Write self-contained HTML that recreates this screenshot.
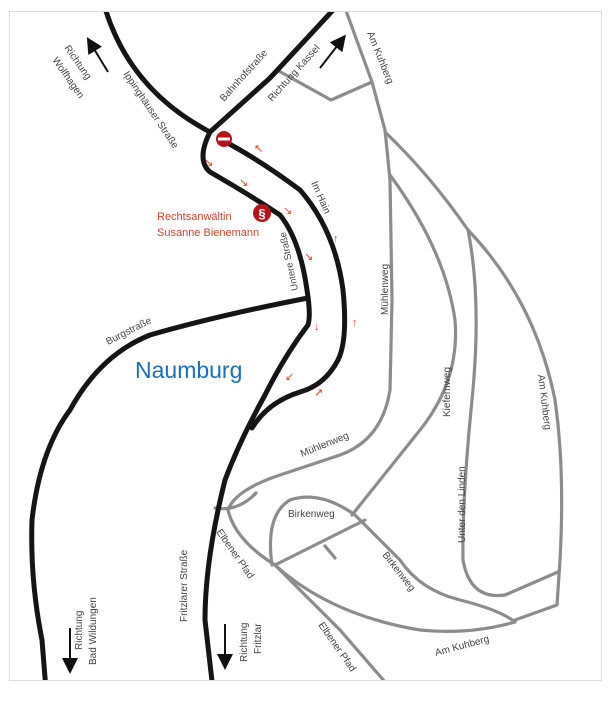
<!DOCTYPE html>
<html><head><meta charset="utf-8"><style>
html,body{margin:0;padding:0;background:#fff;width:609px;height:719px;overflow:hidden}
svg{display:block}
text{font-family:"Liberation Sans","DejaVu Sans",sans-serif;font-size:10px;fill:#444}
.b{fill:none;stroke:#151515;stroke-width:5;stroke-linecap:round;stroke-linejoin:round}
.g{fill:none;stroke:#8c8c8c;stroke-width:3.2;stroke-linecap:round;stroke-linejoin:round}
.r{fill:#e8401c;font-size:11px}
</style></head><body>
<svg width="609" height="719" viewBox="0 0 609 719" xmlns="http://www.w3.org/2000/svg">
<defs>
<radialGradient id="sh" cx="0.5" cy="0" r="0.5">
<stop offset="0" stop-color="#222"/><stop offset="0.6" stop-color="#777" stop-opacity="0.7"/><stop offset="1" stop-color="#fff" stop-opacity="0"/>
</radialGradient>
<clipPath id="c"><rect x="10" y="12" width="591" height="668"/></clipPath>
<marker id="ah" markerWidth="8" markerHeight="8" refX="4" refY="4" orient="auto"><path d="M0,0 L8,4 L0,8 Z" fill="#111"/></marker>
</defs>
<ellipse cx="305" cy="681" rx="295" ry="18" fill="url(#sh)"/>
<rect x="9.5" y="11.5" width="592" height="669" fill="#fff" stroke="#ddd"/>
<g clip-path="url(#c)">
<path class="g" d="M345,8 L372,82 L385,130 L390,180 L392,300 L390,390 Q382,440 340,455 L280,475 Q235,490 228,510 Q235,540 275,565 L340,630 L392,690"/>
<path class="g" d="M277,70 L331,100 L372,82"/>
<path class="g" d="M385,132 Q430,175 468,230 Q535,300 555,400 Q565,470 560,560 L557,605 L515,620"/>
<path class="g" d="M468,230 Q482,300 472,400 Q462,500 463,560 Q470,600 505,595 L558,572"/>
<path class="g" d="M390,175 Q445,250 455,320 Q460,380 420,430 L352,515"/>
<path class="g" d="M272,565 Q265,515 290,500 Q320,490 355,515 L400,560 Q420,590 460,600 Q500,610 515,622"/>
<path class="g" d="M275,565 Q330,615 420,630 Q470,635 515,622"/>
<path class="g" d="M275,565 L365,520"/>
<path class="g" d="M325,546 L335,558"/>
<path class="g" d="M215,508 Q238,512 256,493"/>
<path class="b" d="M105,8 Q130,90 210,132 L270,78 L335,8"/>
<path class="b" d="M210,132 Q196,160 210,172 Q250,195 280,215 Q300,240 307,290 Q311,315 308,325 Q285,355 265,395 Q240,440 225,480 Q205,560 205,620 L213,690"/>
<path class="b" d="M222,140 Q260,160 300,190 Q335,230 343,290 Q348,340 338,360 Q325,385 300,392 Q268,402 252,428"/>
<path class="b" d="M308,298 Q220,315 150,335 Q100,355 70,410 Q40,450 32,520 Q30,580 42,640 L46,690"/>
</g>
<line x1="108" y1="72" x2="91" y2="44" stroke="#111" stroke-width="2" marker-end="url(#ah)"/>
<line x1="320" y1="68" x2="341" y2="41" stroke="#111" stroke-width="2" marker-end="url(#ah)"/>
<line x1="70" y1="628" x2="70" y2="666" stroke="#111" stroke-width="2" marker-end="url(#ah)"/>
<line x1="225" y1="624" x2="225" y2="662" stroke="#111" stroke-width="2" marker-end="url(#ah)"/>
<circle cx="224" cy="139" r="8" fill="#b3141a"/><rect x="218" y="137.5" width="12" height="3" fill="#fff"/>
<circle cx="262" cy="213" r="9" fill="#b3141a"/><text x="262" y="218" text-anchor="middle" style="fill:#fff;font-size:13px;font-weight:bold">§</text>
<text x="157" y="220" style="fill:#c8452a;font-size:11px">Rechtsanwältin</text>
<text x="157" y="236" style="fill:#c8452a;font-size:11px">Susanne Bienemann</text>
<text x="135" y="378" style="fill:#1a6fb8;font-size:23px">Naumburg</text>
<text class="r" x="254" y="152">↖</text>
<text class="r" x="204" y="166">↘</text>
<text class="r" x="239" y="186">↘</text>
<text class="r" x="283" y="214">↘</text>
<text class="r" x="304" y="260">↘</text>
<text class="r" x="333" y="242">↑</text>
<text class="r" x="314" y="330">↓</text>
<text class="r" x="352" y="326">↑</text>
<text class="r" x="285" y="380">↙</text>
<text class="r" x="314" y="396">↗</text>
<text transform="translate(64,48) rotate(55)">Richtung</text>
<text transform="translate(52,60) rotate(55)">Wolfhagen</text>
<text transform="translate(123,74) rotate(56)">Ippinghäuser Straße</text>
<text transform="translate(224,102) rotate(-48)">Bahnhofstraße</text>
<text transform="translate(272,102) rotate(-48)">Richtung Kassel</text>
<text transform="translate(367,33) rotate(68)">Am Kuhberg</text>
<text transform="translate(311,183) rotate(66)">Im Hain</text>
<text transform="translate(298,290) rotate(-102)" style="font-size:9.5px">Untere Straße</text>
<text transform="translate(108,345) rotate(-27)">Burgstraße</text>
<text transform="translate(388,315) rotate(-90)">Mühlenweg</text>
<text transform="translate(450,417) rotate(-90)">Kiefernweg</text>
<text transform="translate(538,375) rotate(83)">Am Kuhberg</text>
<text transform="translate(302,457) rotate(-22)">Mühlenweg</text>
<text transform="translate(465,543) rotate(-90)">Unter den Linden</text>
<text x="288" y="517">Birkenweg</text>
<text transform="translate(382,555) rotate(52)">Birkenweg</text>
<text transform="translate(216,532) rotate(55)">Elbener Pfad</text>
<text transform="translate(318,625) rotate(55)">Elbener Pfad</text>
<text transform="translate(436,656) rotate(-15)">Am Kuhberg</text>
<text transform="translate(187,622) rotate(-90)">Fritzlarer Straße</text>
<text transform="translate(82,650) rotate(-90)">Richtung</text>
<text transform="translate(96,665) rotate(-90)">Bad Wildungen</text>
<text transform="translate(247,662) rotate(-90)">Richtung</text>
<text transform="translate(261,654) rotate(-90)">Fritzlar</text>
</svg>
</body></html>
